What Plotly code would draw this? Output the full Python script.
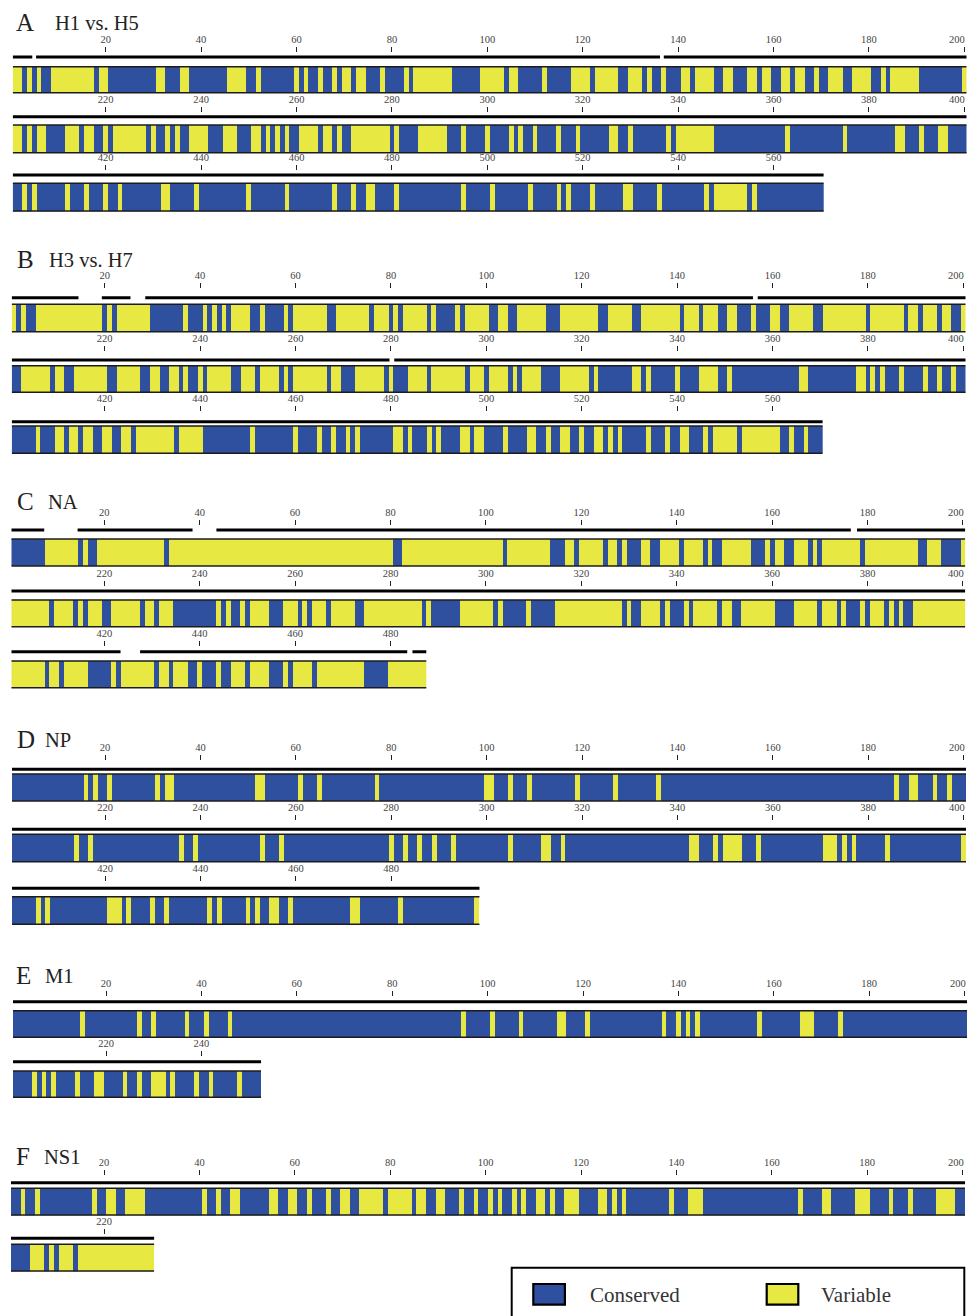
import math
import plotly.graph_objects as go

# ------------------------------------------------------------------
# Data: conservation maps of influenza proteins.
# Runs of variable residues are given as (first, last), 1-based, inclusive;
# every other residue is conserved.
# ------------------------------------------------------------------
PANEL_LETTERS = ["A", "B", "C", "D", "E", "F"]
PANEL_TITLES = ["H1 vs. H5", "H3 vs. H7", "NA", "NP", "M1", "NS1"]
SEQ_LENGTHS = [570, 570, 487, 498, 252, 230]
ROW_WIDTH = 200          # residues per row
TICK_STEP = 20           # residue numbering interval
LEGEND_LABELS = ["Conserved", "Variable"]

VARIABLE_H1_H5 = [
    (1, 2), (4, 4), (6, 6), (9, 17), (19, 20), (31, 32), (36, 37), (46, 49), (52, 52),
    (60, 60), (62, 62), (65, 65), (68, 68), (70, 71), (73, 74), (78, 78), (83, 83),
    (85, 92), (99, 103), (105, 106), (112, 112), (118, 121), (123, 127), (130, 132),
    (134, 134), (137, 137), (141, 142), (144, 147), (150, 151), (155, 156), (158, 159),
    (162, 163), (165, 166), (169, 169), (172, 174), (177, 180), (183, 183), (185, 190),
    (200, 200),
    (201, 202), (204, 204), (206, 207), (212, 214), (216, 217), (220, 220), (222, 228),
    (230, 230), (233, 233), (235, 235), (238, 241), (245, 247), (251, 252), (254, 254),
    (256, 256), (258, 258), (261, 264), (266, 267), (269, 269), (272, 279), (281, 281),
    (286, 291), (295, 295), (300, 300), (305, 305), (307, 307), (310, 310), (315, 315),
    (319, 319), (326, 327), (330, 330), (338, 338), (340, 347), (363, 363), (375, 375),
    (386, 387), (391, 391), (395, 396),
    (403, 403), (405, 405), (412, 412), (416, 416), (420, 420), (423, 423), (432, 433),
    (439, 439), (450, 450), (458, 458), (468, 468), (472, 472), (475, 476), (481, 481),
    (495, 495), (501, 501), (509, 509), (515, 515), (517, 517), (522, 522), (529, 530),
    (536, 536), (546, 546), (548, 554), (556, 556),
]

VARIABLE_H3_H7 = [
    (1, 1), (3, 3), (6, 19), (21, 21), (23, 29), (37, 37), (41, 41), (43, 43), (45, 45),
    (47, 50), (53, 53), (58, 58), (60, 66), (69, 75), (77, 79), (81, 81), (83, 87),
    (89, 89), (94, 94), (96, 100), (103, 104), (107, 112), (116, 123), (126, 130),
    (133, 140), (142, 144), (146, 148), (151, 152), (156, 156), (160, 161), (164, 168),
    (171, 179), (181, 187), (189, 190), (192, 194), (196, 197), (200, 200),
    (203, 208), (210, 211), (214, 220), (223, 227), (230, 231), (234, 235), (237, 237),
    (240, 240), (242, 246), (249, 251), (253, 256), (258, 258), (260, 266), (268, 269),
    (273, 278), (280, 280), (284, 287), (289, 295), (297, 299), (301, 304), (306, 306),
    (308, 311), (316, 321), (323, 323), (331, 332), (334, 334), (340, 340), (345, 348),
    (351, 351), (366, 367), (378, 379), (381, 381), (383, 383), (387, 387), (392, 392),
    (395, 395), (398, 398),
    (406, 406), (410, 411), (413, 414), (416, 417), (420, 421), (424, 425), (427, 434),
    (436, 440), (451, 451), (460, 460), (465, 465), (468, 468), (471, 471), (473, 473),
    (481, 482), (484, 484), (488, 488), (490, 490), (495, 496), (498, 499), (504, 504),
    (509, 510), (513, 513), (516, 517), (520, 520), (523, 524), (526, 526), (528, 528),
    (534, 534), (538, 538), (541, 542), (546, 546), (548, 552), (554, 561), (564, 564),
    (567, 567),
]

VARIABLE_NA = [
    (8, 14), (16, 16), (19, 32), (34, 80), (83, 103), (105, 113), (117, 118), (120, 124),
    (126, 127), (129, 129), (133, 134), (137, 140), (142, 145), (147, 147), (150, 155),
    (159, 159), (161, 162), (165, 167), (169, 169), (171, 178), (180, 190), (193, 195),
    (200, 200),
    (201, 208), (210, 213), (215, 215), (217, 219), (222, 227), (229, 230), (232, 234),
    (244, 244), (246, 246), (249, 249), (251, 254), (258, 260), (262, 262), (264, 266),
    (268, 272), (275, 286), (288, 288), (295, 301), (303, 303), (309, 309), (315, 328),
    (330, 330), (333, 336), (338, 338), (342, 342), (344, 348), (350, 351), (354, 360),
    (365, 369), (371, 373), (375, 375), (379, 379), (381, 383), (385, 385), (387, 387),
    (390, 400),
    (401, 407), (409, 410), (412, 416), (422, 422), (424, 430), (432, 433), (435, 437),
    (440, 440), (444, 444), (447, 449), (451, 454), (458, 458), (460, 463), (465, 474),
    (480, 487),
]

VARIABLE_NP = [
    (16, 16), (18, 18), (21, 21), (31, 31), (33, 34), (52, 53), (61, 61), (65, 65),
    (77, 77), (100, 101), (105, 105), (109, 109), (119, 119), (127, 127), (136, 136),
    (186, 186), (189, 190), (194, 194), (197, 197),
    (214, 214), (217, 217), (236, 236), (239, 239), (253, 253), (257, 257), (280, 280),
    (283, 283), (286, 286), (289, 289), (293, 293), (305, 305), (312, 313), (316, 316),
    (343, 344), (348, 348), (350, 353), (357, 357), (371, 373), (375, 375), (377, 377),
    (384, 384), (400, 400),
    (406, 406), (408, 408), (421, 423), (425, 425), (430, 430), (433, 433), (442, 442),
    (444, 444), (450, 450), (452, 452), (455, 456), (459, 459), (472, 473), (482, 482),
    (498, 498),
]

VARIABLE_M1 = [
    (15, 15), (27, 27), (30, 30), (37, 37), (41, 41), (46, 46), (95, 95), (101, 101),
    (107, 107), (115, 116), (121, 121), (137, 137), (140, 140), (142, 142), (144, 144),
    (157, 157), (166, 168), (174, 174),
    (205, 205), (207, 207), (209, 209), (214, 214), (218, 219), (224, 224), (227, 227),
    (230, 232), (234, 234), (239, 239), (242, 242), (248, 248),
]

VARIABLE_NS1 = [
    (3, 3), (6, 6), (18, 18), (21, 22), (25, 28), (41, 41), (44, 44), (47, 48), (55, 56),
    (59, 60), (63, 63), (67, 67), (70, 71), (74, 78), (80, 84), (86, 87), (90, 91),
    (95, 95), (98, 98), (101, 101), (103, 103), (106, 106), (108, 108), (111, 112),
    (114, 114), (117, 119), (124, 125), (127, 127), (129, 129), (139, 139), (143, 145),
    (166, 166), (171, 172), (178, 180), (185, 185), (189, 189), (195, 198),
    (205, 207), (209, 209), (211, 213), (215, 230),
]

VARIABLE_SITES = [VARIABLE_H1_H5, VARIABLE_H3_H7, VARIABLE_NA,
                  VARIABLE_NP, VARIABLE_M1, VARIABLE_NS1]

# Structural segments drawn as black bars above each row (residue boundaries)
DOMAINS = [
    [(0, 4.1), (4.9, 135.7), (136.5, 570)],
    [(0, 14), (18.9, 24.9), (28, 155.4), (156.4, 279.2), (280.2, 570)],
    [(0, 6.9), (13.9, 38), (43, 176), (177.3, 422.9), (427, 483), (484.1, 487)],
    [(0, 498)],
    [(0, 252)],
    [(0, 230)],
]

# ------------------------------------------------------------------
# Geometry (pixels) and styling
# ------------------------------------------------------------------
W, H = 967, 1316
BLUE = "#2F4F9F"
YELLOW = "#E8E843"
SERIF = "Liberation Serif, Times New Roman, serif"
TICK_FONT = dict(family=SERIF, size=10.5, color="#444")
TICK_LEN = 5
PX_PER_RES = 4.77
PANEL_X0 = [12.7, 11.7, 11.3, 12.0, 13.0, 11.0]

# per row: (tick bottom, domain line centre, bar top, bar bottom)
ROW_PX = [
    [(53.3, 57.0, 66.7, 92.7), (113.3, 116.7, 125.0, 152.7), (170.7, 175.0, 183.3, 211.0)],
    [(289.3, 297.7, 304.3, 331.7), (351.7, 360.0, 365.7, 392.3), (411.7, 421.7, 426.0, 453.3)],
    [(525.7, 530.0, 539.0, 566.0), (586.7, 591.0, 600.0, 626.7), (646.7, 651.7, 661.0, 687.7)],
    [(761.0, 769.3, 774.0, 801.0), (821.0, 829.3, 834.3, 861.7), (881.7, 888.3, 896.7, 924.3)],
    [(996.7, 1001.7, 1010.7, 1037.3), (1056.7, 1061.7, 1071.0, 1097.3)],
    [(1176.0, 1182.7, 1188.3, 1215.0), (1235.0, 1238.3, 1244.3, 1271.0)],
]
# (letter x, title x, text centre y)
TITLE_PX = [(14, 52.7, 22), (15, 46.7, 259), (15, 46, 501.5),
            (15, 42.7, 739), (14, 43.3, 975), (14, 41.7, 1156)]


def fx(x):
    return x / W


def fy(y):
    return 1 - y / H


fig = go.Figure()
layout_axes = {}
annotations = []
idx = 0

for pi, length in enumerate(SEQ_LENGTHS):
    variable = set()
    for s, e in VARIABLE_SITES[pi]:
        variable.update(range(s, e + 1))
    n_rows = math.ceil(length / ROW_WIDTH)
    for r in range(n_rows):
        idx += 1
        xa = "x" if idx == 1 else f"x{idx}"
        ya = "y" if idx == 1 else f"y{idx}"
        start = r * ROW_WIDTH
        n = min(ROW_WIDTH, length - start)
        residues = list(range(1, n + 1))
        z = [[1 if start + p in variable else 0 for p in residues]]

        tick_bot, line_px, bar_top, bar_bot = ROW_PX[pi][r]
        hpx = bar_bot - bar_top
        pad = 2.0
        y_lo = -pad / hpx
        y_hi = (bar_bot - tick_bot) / hpx
        y_line = (bar_bot - line_px) / hpx

        fig.add_trace(go.Heatmap(
            z=z, x0=1, dx=1, y0=0.5, dy=1,
            colorscale=[[0, BLUE], [1, YELLOW]], zmin=0, zmax=1,
            showscale=False, hoverinfo="skip", xaxis=xa, yaxis=ya,
        ))
        # thin outline along top and bottom of the bar
        fig.add_trace(go.Scatter(
            x=[0.5, n + 0.5, None, 0.5, n + 0.5], y=[1, 1, None, 0, 0],
            mode="lines", line=dict(color="#1c1c1c", width=1.6),
            hoverinfo="skip", showlegend=False, xaxis=xa, yaxis=ya,
        ))
        # structural segments above the bar
        sx, sy = [], []
        for a, b in DOMAINS[pi]:
            lo, hi = max(a, start), min(b, start + n)
            if hi > lo:
                sx += [lo - start + 0.5, hi - start + 0.5, None]
                sy += [y_line, y_line, None]
        fig.add_trace(go.Scatter(
            x=sx, y=sy, mode="lines", line=dict(color="black", width=3),
            hoverinfo="skip", showlegend=False, xaxis=xa, yaxis=ya,
        ))

        tickvals = list(range(TICK_STEP, n + 1, TICK_STEP))
        ticktext = []
        for v in tickvals:
            if v == ROW_WIDTH:
                # the last number of a full row sits flush with the right edge
                ticktext.append("")
                annotations.append(dict(
                    text=str(start + v), xref=xa, yref=ya, x=v, y=y_hi,
                    xanchor="right", yanchor="bottom", xshift=2, yshift=TICK_LEN + 2,
                    borderpad=0, showarrow=False, font=TICK_FONT,
                ))
            else:
                ticktext.append(str(start + v))

        x0 = PANEL_X0[pi]
        layout_axes["xaxis" if idx == 1 else f"xaxis{idx}"] = dict(
            domain=[fx(x0), min(1.0, fx(x0 + ROW_WIDTH * PX_PER_RES))],
            range=[0.5, ROW_WIDTH + 0.5], anchor=ya, side="top",
            tickvals=tickvals, ticktext=ticktext,
            ticks="outside", ticklen=TICK_LEN, tickwidth=1.2, tickcolor="#222",
            tickfont=TICK_FONT, automargin=False,
            showgrid=False, zeroline=False, showline=False, fixedrange=True,
        )
        layout_axes["yaxis" if idx == 1 else f"yaxis{idx}"] = dict(
            domain=[fy(bar_bot + pad), fy(tick_bot)], range=[y_lo, y_hi],
            anchor=xa, visible=False, automargin=False, fixedrange=True,
        )

for pi in range(len(PANEL_LETTERS)):
    lx, tx, ty = TITLE_PX[pi]
    annotations.append(dict(
        text=PANEL_LETTERS[pi], x=fx(lx), y=fy(ty), xref="paper", yref="paper",
        xanchor="left", yanchor="middle", showarrow=False,
        font=dict(family=SERIF, size=25, color="#222"),
    ))
    annotations.append(dict(
        text=PANEL_TITLES[pi], x=fx(tx), y=fy(ty + 1), xref="paper", yref="paper",
        xanchor="left", yanchor="middle", showarrow=False,
        font=dict(family=SERIF, size=20.5, color="#222"),
    ))

# legend box
shapes = [dict(type="rect", xref="paper", yref="paper",
               x0=fx(511.7), x1=fx(964.3), y0=fy(1330), y1=fy(1267.7),
               line=dict(color="black", width=2), fillcolor="white", layer="below")]
legend_items = [(533.3, 587.7, BLUE), (766.7, 819.3, YELLOW)]
for (sx0, tx0, col), label in zip(legend_items, LEGEND_LABELS):
    shapes.append(dict(type="rect", xref="paper", yref="paper",
                       x0=fx(sx0), x1=fx(sx0 + 31.6), y0=fy(1304.7), y1=fy(1284),
                       line=dict(color="black", width=2.2), fillcolor=col))
    annotations.append(dict(
        text=label, x=fx(tx0), y=fy(1294.7), xref="paper", yref="paper",
        xanchor="left", yanchor="middle", showarrow=False,
        font=dict(family=SERIF, size=21, color="#333"),
    ))

fig.update_layout(
    width=W, height=H, margin=dict(l=0, r=0, t=0, b=0, autoexpand=False),
    paper_bgcolor="white", plot_bgcolor="white",
    showlegend=False, annotations=annotations, shapes=shapes,
    **layout_axes,
)

fig.write_html("out.html")
